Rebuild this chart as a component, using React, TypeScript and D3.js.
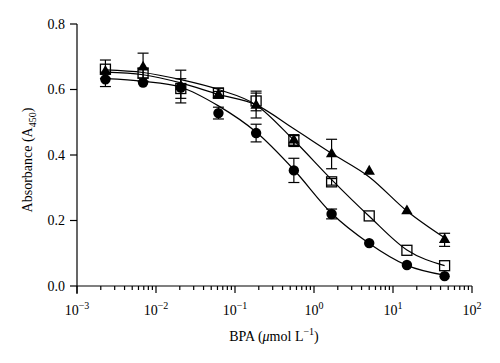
import React from 'react';
import { scaleLog, scaleLinear, line, curveMonotoneX, symbol, symbolTriangle } from 'd3';

// BPA concentrations (umol/L), 3-fold dilution series
const conc = [0.00229, 0.00686, 0.0206, 0.0617, 0.185, 0.556, 1.67, 5, 15, 45];

// filled circles: measured points, error bars and fitted line read at each concentration
const circleY = [0.631, 0.621, 0.606, 0.528, 0.467, 0.353, 0.22, 0.131, 0.064, 0.03];
const circleErr = [0.022, 0, 0, 0.018, 0.027, 0.037, 0.015, 0, 0, 0];
const circleFit = [0.633, 0.625, 0.607, 0.55, 0.47, 0.355, 0.222, 0.13, 0.063, 0.033];

// open squares
const squareY = [0.662, 0.65, 0.603, 0.589, 0.565, 0.444, 0.318, 0.214, 0.109, 0.062];
const squareErr = [0.028, 0.015, 0.03, 0.015, 0.03, 0.018, 0.01, 0, 0, 0];
const squareFit = [0.66, 0.652, 0.63, 0.6, 0.553, 0.445, 0.325, 0.213, 0.11, 0.062];

// filled triangles
const triangleY = [0.655, 0.668, 0.609, 0.584, 0.551, 0.445, 0.403, 0.35, 0.229, 0.141];
const triangleErr = [0, 0.043, 0.05, 0.01, 0.038, 0.015, 0.045, 0, 0, 0.02];
const triangleFit = [0.653, 0.645, 0.62, 0.585, 0.553, 0.48, 0.405, 0.333, 0.229, 0.147];

const yTicks = [0, 0.2, 0.4, 0.6, 0.8];
const xExps = [-3, -2, -1, 0, 1, 2];

const font = '"Liberation Serif", "DejaVu Serif", serif';

export default function App() {
  const x = scaleLog().domain([1e-3, 1e2]).range([77, 472]);
  const y = scaleLinear().domain([0, 0.8]).range([286, 24]);

  const path = line<number>()
    .x((d, i) => x(conc[i]))
    .y(d => y(d))
    .curve(curveMonotoneX);

  const minor: number[] = [];
  for (let e = -3; e < 2; e++) {
    for (let m = 2; m <= 9; m++) minor.push(m * Math.pow(10, e));
  }

  const tri = symbol().type(symbolTriangle).size(56)();

  const errBars = (vals: number[], errs: number[], key: string) =>
    vals.map((v, i) =>
      errs[i] > 0 ? (
        <g key={key + i} stroke="#000" strokeWidth={1.2}>
          <line x1={x(conc[i])} x2={x(conc[i])} y1={y(v - errs[i])} y2={y(v + errs[i])} />
          <line x1={x(conc[i]) - 5.5} x2={x(conc[i]) + 5.5} y1={y(v - errs[i])} y2={y(v - errs[i])} />
          <line x1={x(conc[i]) - 5.5} x2={x(conc[i]) + 5.5} y1={y(v + errs[i])} y2={y(v + errs[i])} />
        </g>
      ) : null
    );

  return (
    <svg width={500} height={363} style={{ position: 'absolute', left: 0, top: 0, background: '#fff' }}
      fontFamily={font}>
      {/* axes */}
      <g stroke="#000" strokeWidth={1.2} fill="none">
        <line x1={77} x2={77} y1={y(0.8)} y2={294} />
        <line x1={77} x2={472} y1={286} y2={286} />
        {yTicks.map(t => (
          <line key={t} x1={70} x2={77} y1={y(t)} y2={y(t)} />
        ))}
        {xExps.map(e => (
          <line key={e} x1={x(Math.pow(10, e))} x2={x(Math.pow(10, e))} y1={286} y2={293} />
        ))}
        {minor.map(m => (
          <line key={m} x1={x(m)} x2={x(m)} y1={286} y2={290} />
        ))}
      </g>
      {yTicks.map(t => (
        <text key={t} x={65} y={y(t)} dy="0.35em" fontSize={14} textAnchor="end">
          {t.toFixed(1)}
        </text>
      ))}
      {xExps.map(e => (
        <text key={e} x={x(Math.pow(10, e))} y={315} fontSize={14} textAnchor="middle">
          10<tspan fontSize={10} dy={-6}>{e < 0 ? '\u2212' + Math.abs(e) : e}</tspan>
        </text>
      ))}
      <text x={274} y={341} fontSize={14} textAnchor="middle">
        BPA (<tspan fontStyle="italic">μ</tspan>mol L<tspan fontSize={10} dy={-6}>−1</tspan>
        <tspan dy={6}>)</tspan>
      </text>
      <text transform="translate(32,160) rotate(-90)" fontSize={14} textAnchor="middle">
        Absorbance (A<tspan fontSize={10} dy={4}>450</tspan><tspan dy={-4}>)</tspan>
      </text>

      {/* fitted curves */}
      <g fill="none" stroke="#000" strokeWidth={1.2}>
        <path d={path(circleFit) || ''} />
        <path d={path(squareFit) || ''} />
        <path d={path(triangleFit) || ''} />
      </g>

      {errBars(circleY, circleErr, 'c')}
      {errBars(squareY, squareErr, 's')}
      {errBars(triangleY, triangleErr, 't')}

      {circleY.map((v, i) => (
        <circle key={'c' + i} cx={x(conc[i])} cy={y(v)} r={5.2} fill="#000" />
      ))}
      {squareY.map((v, i) => (
        <rect key={'s' + i} x={x(conc[i]) - 5} y={y(v) - 5} width={10} height={10}
          fill="none" stroke="#000" strokeWidth={1.3} />
      ))}
      {triangleY.map((v, i) => (
        <path key={'t' + i} d={tri || ''} transform={`translate(${x(conc[i])},${y(v)})`} fill="#000" />
      ))}
    </svg>
  );
}
